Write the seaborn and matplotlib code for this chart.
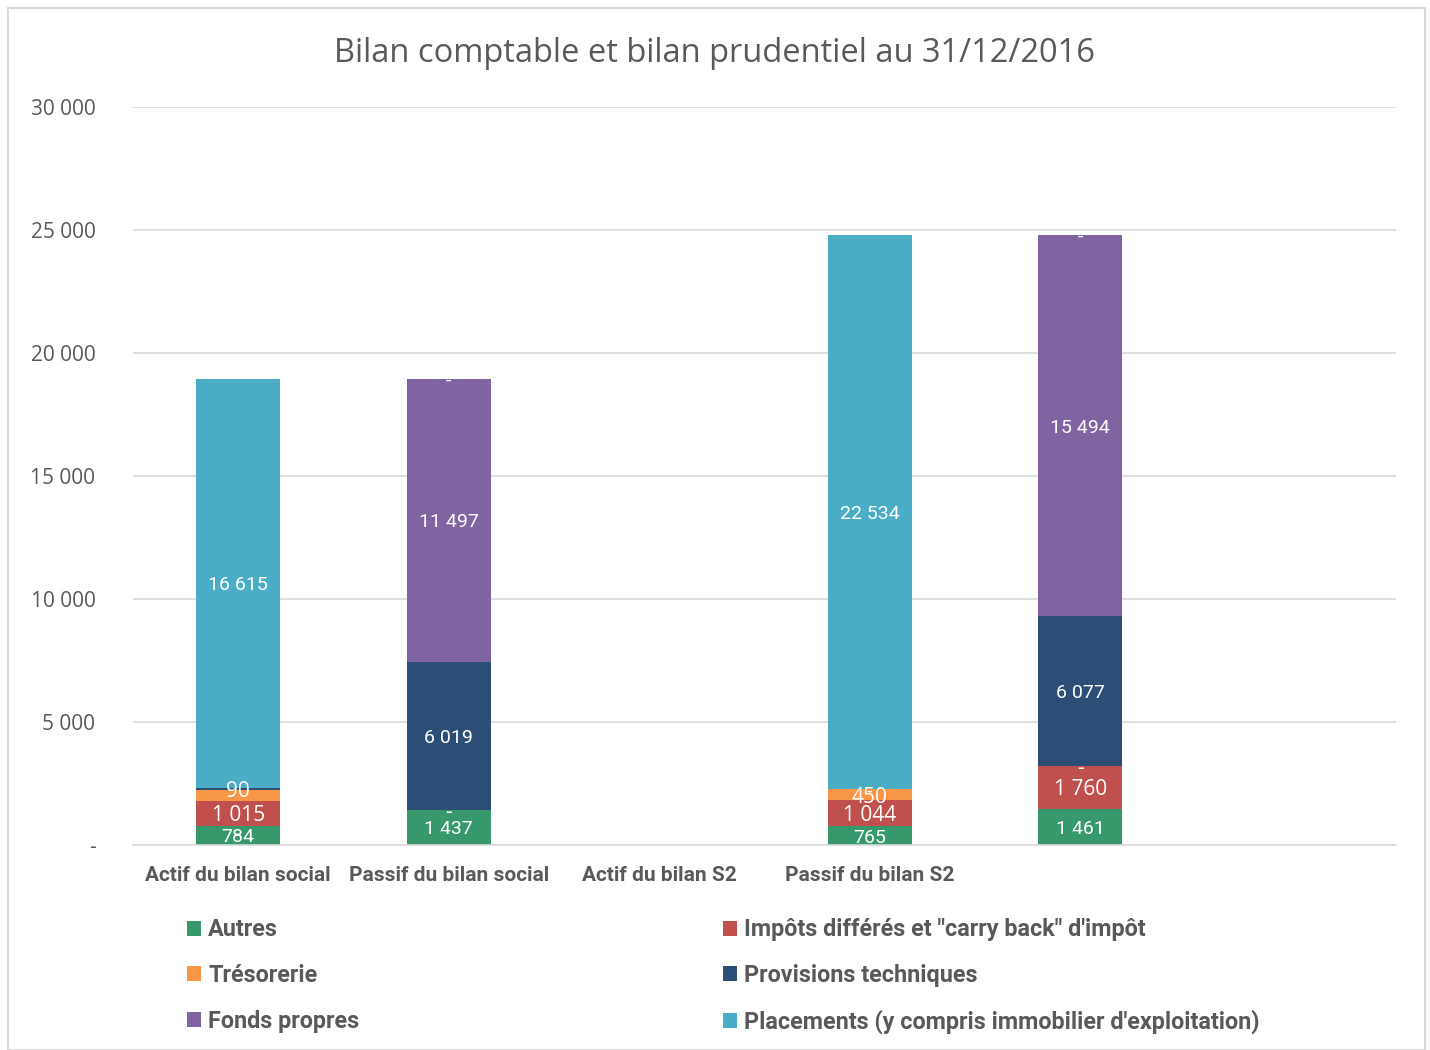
import numpy as np
import pandas as pd
import seaborn as sns
import matplotlib
matplotlib.use("Agg")
import matplotlib.pyplot as plt
from matplotlib.patches import Rectangle, Patch

# ---------------- data ----------------
slots = ["s0", "s1", "s2", "s3", "s4", "s5"]
tick_labels = ["Actif du bilan social", "Passif du bilan social", "Actif du bilan S2",
               "Passif du bilan S2", "", ""]
series = ["Autres", "Impôts différés et \"carry back\" d'impôt", "Trésorerie",
          "Provisions techniques", "Fonds propres",
          "Placements (y compris immobilier d'exploitation)"]
nan = np.nan
autres      = [784, 1437, nan, 765, 1461, nan]
impots      = [1015, 0, nan, 1044, 1760, nan]
tresorerie  = [440, nan, nan, 450, 0, nan]
provisions  = [90, 6019, nan, 0, 6077, nan]
fonds       = [nan, 11497, nan, nan, 15494, nan]
placements  = [16615, 0, nan, 22534, 0, nan]
# which labels to show (Excel hid the orange one of the first bar)
show_label = {"Trésorerie": [False, True, True, True, True, True]}
values = [autres, impots, tresorerie, provisions, fonds, placements]
colors = ["#37996B", "#C0504D", "#F79646", "#2C4D75", "#8064A2", "#4BACC6"]
yticks = [0, 5000, 10000, 15000, 20000, 25000, 30000]

# ---------------- figure ----------------
sns.set_theme(style="white")
plt.rcParams["font.family"] = ["DejaVu Sans"]
narrow = ["Roboto", "DejaVu Sans"]
regular = ["Open Sans", "DejaVu Sans"]

fig = plt.figure(figsize=(14.3, 10.5), dpi=100)
ax = fig.add_axes([133 / 1430, 1 - 845 / 1050, (1396 - 133) / 1430, (845 - 107) / 1050])

df = pd.DataFrame({"slot": slots})
for name, vals in zip(series, values):
    df[name] = vals
filled = df[series].fillna(0)
cum = filled.cumsum(axis=1)
has_bar = df[series].notna().any(axis=1)

# draw from top of the stack down so lower series overlay
for i in range(len(series) - 1, -1, -1):
    name = series[i]
    d = pd.DataFrame({"slot": slots, "h": cum[name].where(has_bar)})
    sns.barplot(data=d, x="slot", y="h", order=slots, color=colors[i], width=0.4,
                saturation=1, ax=ax, linewidth=0, errorbar=None)

# labels
for i, name in enumerate(series):
    for j in range(len(slots)):
        v = df[name].iloc[j]
        if pd.isna(v):
            continue
        if name in show_label and not show_label[name][j]:
            continue
        base = cum[name].iloc[j] - filled[name].iloc[j]
        txt = "-" if v == 0 else f"{int(v):,}".replace(",", " ")
        wide = name in ("Impôts différés et \"carry back\" d'impôt", "Trésorerie")
        ypos = base + v / 2
        if name == "Provisions techniques" and 0 < v < 500:
            wide = True
        ax.text(j, ypos, txt, ha="center", va="center_baseline", color="white",
                fontsize=15 if wide else 14, family=regular if wide else narrow)

ax.set_ylim(0, 30000)
ax.set_xlim(-0.5, 5.5)
ax.set_yticks(yticks)
ax.set_yticklabels(["-" if t == 0 else f"{t:,}".replace(",", " ") for t in yticks],
                   fontsize=15, color="#595959", family=regular)
ax.set_xticks(range(len(slots)))
ax.set_xticklabels(tick_labels, fontsize=15, color="#595959", family=narrow, fontweight="bold")
ax.tick_params(axis="y", length=0, pad=27)
ax.tick_params(axis="x", length=0, pad=15)
ax.set_xlabel("")
ax.set_ylabel("")
ax.grid(axis="y", color="#D9D9D9", linewidth=1.2)
ax.set_axisbelow(True)
for s in ["top", "right", "left"]:
    ax.spines[s].set_visible(False)
ax.spines["bottom"].set_color("#D9D9D9")
ax.spines["bottom"].set_linewidth(1.2)

fig.suptitle("Bilan comptable et bilan prudentiel au 31/12/2016", y=1 - 54 / 1050,
             va="center", fontsize=23.5, color="#595959", family=regular)

# legend
order = [0, 2, 4, 1, 3, 5]
handles = [Patch(facecolor=colors[k], edgecolor="none") for k in order]
labels = [series[k] for k in order]
leg = fig.legend(handles, labels, ncol=2, loc="upper left",
                 bbox_to_anchor=(178 / 1430, 1 - 909 / 1050), frameon=False,
                 prop={"family": narrow, "size": 16.8, "weight": "bold"},
                 handlelength=0.6, handleheight=0.6, handletextpad=0.3,
                 labelspacing=0.97, columnspacing=15.6, borderaxespad=0)
for t in leg.get_texts():
    t.set_color("#595959")

fig.patches.append(Rectangle((8 / 1430, 0), (1425 - 8) / 1430, 1 - 8 / 1050,
                             transform=fig.transFigure, fill=False,
                             edgecolor="#D9D9D9", linewidth=1.5))

fig.savefig("out.png", dpi=100)
